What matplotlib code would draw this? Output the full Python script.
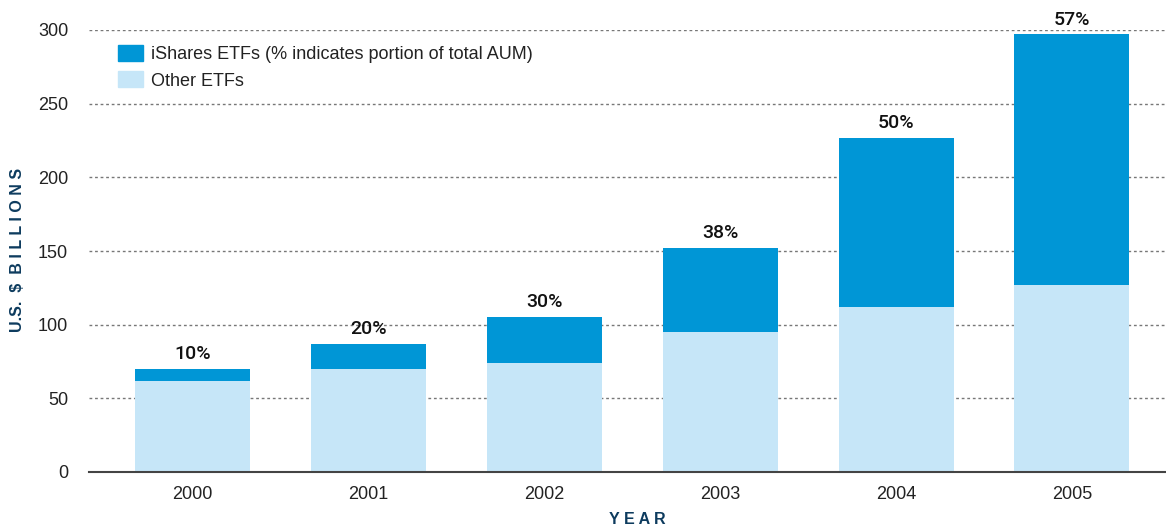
import matplotlib.pyplot as plt
from matplotlib.patches import Patch

years = ['2000', '2001', '2002', '2003', '2004', '2005']
other_etfs = [62, 70, 74, 95, 112, 127]
ishares_etfs = [8, 17, 31, 57, 115, 170]
pct_labels = ['10%', '20%', '30%', '38%', '50%', '57%']

dark_blue = '#0096d6'
light_blue = '#c6e6f8'
title_blue = '#0d3b5e'

plt.rcParams['font.family'] = ['Liberation Sans', 'DejaVu Sans']

fig = plt.figure(figsize=(11.66, 5.29), dpi=100)
ax = fig.add_axes([89 / 1166, 57 / 529, 1 - 89 / 1166, (472 - 30) / 529])

x = list(range(len(years)))
w = 0.654
ax.bar(x, other_etfs, width=w, color=light_blue, zorder=3)
ax.bar(x, ishares_etfs, width=w, bottom=other_etfs, color=dark_blue, zorder=3)

for i in x:
    top = other_etfs[i] + ishares_etfs[i]
    ax.text(i, top + 4, pct_labels[i], ha='center', va='bottom',
            fontsize=14, fontweight='medium', family=['Roboto', 'DejaVu Sans'],
            color='#111111', clip_on=False)

ax.set_xlim(-0.59, 5.535)
ax.set_ylim(0, 300)
ax.set_yticks([0, 50, 100, 150, 200, 250, 300])
ax.set_xticks(x)
ax.set_xticklabels(years)
ax.tick_params(axis='both', length=0, labelsize=13, colors='#222222')
ax.tick_params(axis='y', pad=15)
ax.tick_params(axis='x', pad=10)

ax.yaxis.grid(True, linestyle=(0, (2, 2)), color='#777777', linewidth=1, zorder=0)
for s in ['top', 'right', 'left']:
    ax.spines[s].set_visible(False)
ax.spines['bottom'].set_color('#444444')
ax.spines['bottom'].set_linewidth(1.5)
ax.spines['bottom'].set_zorder(4)

fig.text(18 / 1166, 1 - 250 / 529, 'U.S.  $  B I L L I O N S', rotation=90,
         ha='center', va='center', fontsize=11.5, fontweight='bold', color=title_blue)
fig.text(637 / 1166, 1 - 519 / 529, 'Y E A R', ha='center', va='center',
         fontsize=11.5, fontweight='bold', color=title_blue)

handles = [Patch(color=dark_blue, label='iShares ETFs (% indicates portion of total AUM)'),
           Patch(color=light_blue, label='Other ETFs')]
ax.legend(handles=handles, loc='upper left', bbox_to_anchor=(0.012, 1.003),
          frameon=False, fontsize=13, handlelength=1.4, handleheight=1.0,
          handletextpad=0.4, labelspacing=0.45, labelcolor='#222222')

fig.savefig('out.png', dpi=100)
